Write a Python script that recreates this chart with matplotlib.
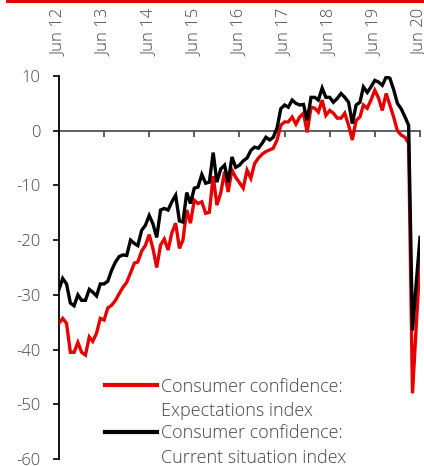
import matplotlib
matplotlib.use("Agg")
import matplotlib.pyplot as plt
from matplotlib.lines import Line2D
import pandas as pd

plt.rcParams['font.family'] = ['Open Sans', 'DejaVu Sans']
plt.rcParams['font.weight'] = 'light'

dates = pd.date_range("2012-06-01", "2020-06-01", freq="MS")

expectations = [
    -35.2, -34.3, -35.2, -40.5, -40.5, -38.7, -40.5, -41.0, -37.7, -38.5, -37.0, -34.3,
    -34.6, -32.4, -31.9, -31.0, -29.8, -28.6, -27.7, -26.0, -24.2, -24.0, -22.0, -21.0,
    -19.0, -21.5, -25.0, -20.9, -19.8, -21.8, -18.7, -16.9, -21.5, -20.0, -14.5, -16.9,
    -12.7, -13.3, -13.0, -15.1, -14.9, -8.3, -13.6, -11.4, -7.5, -11.2, -7.2, -8.5,
    -9.5, -10.5, -7.2, -8.7, -6.0, -5.0, -4.3, -3.8, -3.5, -3.2, -1.7, 1.0,
    1.6, 1.6, 2.5, 1.2, 2.5, 3.2, -0.3, 4.3, 4.1, 3.4, 5.6, 2.8,
    3.7, 3.2, 2.3, 2.3, 3.2, 1.0, -1.7, 1.9, 2.5, 4.7, 4.1, 5.6,
    7.4, 6.0, 3.7, 6.8, 4.7, 2.5, 0.0, -0.8, -1.2, -2.3, -48.0, -36.0,
    -23.7,
]

current = [
    -29.0, -27.0, -28.0, -31.5, -32.0, -30.0, -31.0, -31.0, -29.0, -29.5, -30.2, -28.0,
    -28.0, -27.5, -25.5, -24.0, -23.0, -22.7, -22.8, -20.0, -20.6, -21.0, -18.2, -17.3,
    -15.5, -17.0, -19.5, -14.5, -14.2, -14.5, -13.0, -11.8, -16.5, -16.7, -11.3, -13.3,
    -10.5, -10.3, -8.0, -9.6, -9.4, -4.0, -9.4, -7.0, -6.3, -9.4, -4.8, -6.7,
    -6.3, -5.5, -5.0, -3.6, -3.0, -3.2, -2.3, -1.2, -1.7, -1.2, 0.5, 4.0,
    4.7, 4.3, 5.6, 5.0, 4.7, 4.8, 1.9, 6.1, 6.1, 5.6, 7.8, 6.1,
    6.1, 5.2, 5.9, 6.8, 6.1, 5.2, 1.3, 4.7, 5.2, 8.0, 7.0, 8.0,
    9.2, 8.9, 8.3, 9.8, 9.6, 7.5, 5.0, 4.0, 2.5, 1.0, -36.5, -28.0,
    -19.5,
]

tick_dates = pd.date_range("2012-06-01", "2020-06-01", freq="12MS")
tick_labels = [d.strftime("Jun %y") for d in tick_dates]
y_ticks = [10, 0, -10, -20, -30, -40, -50, -60]

RED = "#e60000"
GREY = "#444444"

W, H = 424, 466
fig = plt.figure(figsize=(W / 100, H / 100), dpi=100)

def fx(px):
    return px / W

def fy(py):
    return 1 - py / H

ax = fig.add_axes([fx(59), fy(459), (420 - 59) / W, (459 - 76) / H])

ax.plot(dates, expectations, color=RED, lw=2.4, solid_joinstyle='miter', zorder=3)
ax.plot(dates, current, color="black", lw=2.4, solid_joinstyle='miter', zorder=4)

ax.set_xlim(tick_dates[0], tick_dates[-1])
ax.set_ylim(-60, 10)

ax.spines['top'].set_visible(False)
ax.spines['right'].set_visible(False)
ax.spines['bottom'].set_position(('data', 0))
ax.spines['bottom'].set_color(GREY)
ax.spines['bottom'].set_linewidth(1.2)
ax.spines['bottom'].set_zorder(2)
ax.spines['left'].set_color("black")
ax.spines['left'].set_linewidth(1.3)

ax.set_xticks(tick_dates)
ax.set_xticklabels(tick_labels, rotation=90)
ax.tick_params(axis='x', bottom=True, top=False, labelbottom=False, labeltop=True,
               direction='out', length=4.5, width=1.2, color=GREY,
               labelsize=12, labelcolor=GREY, pad=10)

ax.set_yticks(y_ticks)
ax.set_yticklabels([str(v) for v in y_ticks])
ax.tick_params(axis='y', direction='out', length=4.5, width=1.2, color="black",
               labelsize=12, labelcolor=GREY, pad=9)

# top red rule
fig.add_artist(Line2D([fx(7), fx(424)], [fy(1), fy(1)], color=RED, lw=2.2))

# legend (manual, handle aligned to first text line)
entries = [
    (RED, "Consumer confidence:", "Expectations index", 385),
    ("black", "Consumer confidence:", "Current situation index", 432),
]
for col, l1, l2, yline in entries:
    fig.add_artist(Line2D([fx(105), fx(157)], [fy(yline), fy(yline)], color=col, lw=3.0))
    fig.text(fx(161), fy(yline + 6.5), l1, fontsize=13, color=GREY, va='baseline', ha='left')
    fig.text(fx(161), fy(yline + 31), l2, fontsize=13, color=GREY, va='baseline', ha='left')

fig.savefig("out.png", dpi=100)
